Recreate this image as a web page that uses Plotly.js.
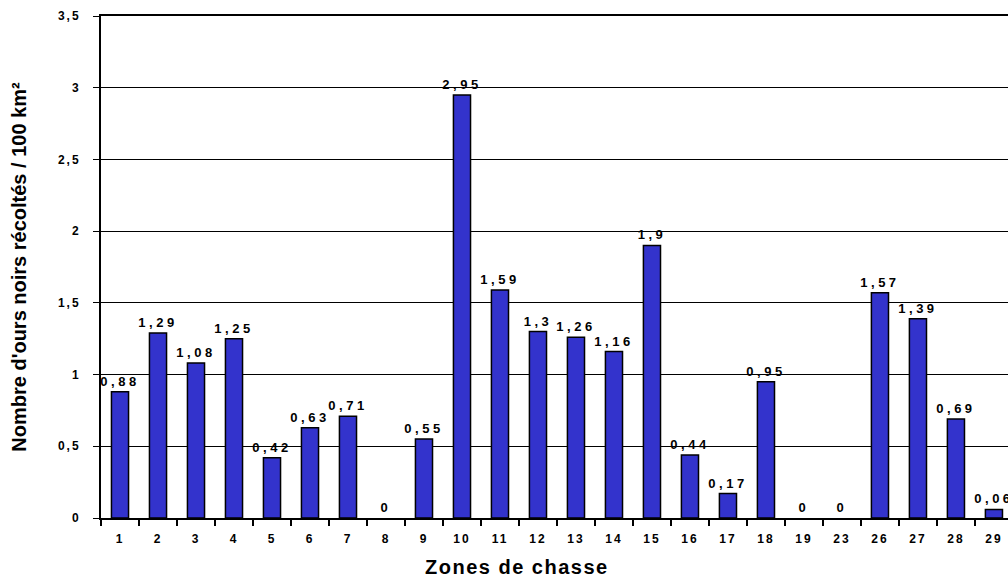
<!DOCTYPE html>
<html>
<head>
<meta charset="utf-8">
<script src="https://cdn.plot.ly/plotly-3.0.1.min.js"></script>
<style>
html,body{margin:0;padding:0;background:#fff;}
#chart{width:1008px;height:581px;}
.xtick text, .ytick text {letter-spacing:2px;}
text.bartext {letter-spacing:3.5px;}
.annotation-text {letter-spacing:1.5px;}
</style>
</head>
<body>
<div id="chart"></div>
<script>
const zones = ['1','2','3','4','5','6','7','8','9','10','11','12','13','14','15','16','17','18','19','23','26','27','28','29'];
const densite = [0.88,1.29,1.08,1.25,0.42,0.63,0.71,0,0.55,2.95,1.59,1.3,1.26,1.16,1.9,0.44,0.17,0.95,0,0,1.57,1.39,0.69,0.06];
const yTickVals = [0,0.5,1,1.5,2,2.5,3,3.5];
const yTickText = ['0','0,5','1','1,5','2','2,5','3','3,5'];
const labels = densite.map(v => String(v).replace('.', ','));

const trace = {
  type: 'bar',
  x: zones,
  y: densite,
  text: labels,
  textposition: 'outside',
  constraintext: 'none',
  cliponaxis: false,
  textfont: {family: 'Liberation Sans, Arial, sans-serif', size: 13, color: '#000', weight: 'bold'},
  marker: {color: '#3333cc', line: {color: '#000', width: densite.map(v => v > 0 ? 1.5 : 0)}},
  hoverinfo: 'none'
};

const layout = {
  width: 1008, height: 581,
  margin: {l: 101, r: 0, t: 16, b: 63},
  paper_bgcolor: '#fff', plot_bgcolor: '#fff',
  bargap: 0.55,
  showlegend: false,
  font: {family: 'Liberation Sans, Arial, sans-serif', color: '#000'},
  xaxis: {
    type: 'category',
    range: [-0.5, 23.37],
    showline: true, linecolor: '#000', linewidth: 2, mirror: true,
    ticks: 'outside', tickson: 'boundaries', ticklen: 6, tickcolor: '#000', tickwidth: 2,
    ticklabelstandoff: 9,
    tickfont: {size: 12, weight: 'bold', color: '#000'},
    showgrid: false, zeroline: false
  },
  yaxis: {
    range: [0, 3.5],
    tickvals: yTickVals, ticktext: yTickText,
    showline: true, linecolor: '#000', linewidth: 2,
    ticks: 'outside', ticklen: 6, tickcolor: '#000', tickwidth: 1,
    ticklabelstandoff: 10,
    tickfont: {size: 12, weight: 'bold', color: '#000'},
    showgrid: true, gridcolor: '#000', gridwidth: 1,
    zeroline: false,
    title: {text: 'Nombre d\'ours noirs récoltés / 100 km²', font: {family: 'Liberation Sans, Arial, sans-serif', size: 20, weight: 'bold', color: '#000'}, standoff: 26}
  },
  annotations: [{
    text: 'Zones de chasse', xref: 'paper', yref: 'paper',
    x: (517 - 101) / 907, y: 0, yshift: -49, xanchor: 'center', yanchor: 'middle',
    showarrow: false,
    font: {family: 'Liberation Sans, Arial, sans-serif', size: 20, weight: 'bold', color: '#000'}
  }]
};

Plotly.newPlot('chart', [trace], layout, {displayModeBar: false, staticPlot: true});
</script>
</body>
</html>
